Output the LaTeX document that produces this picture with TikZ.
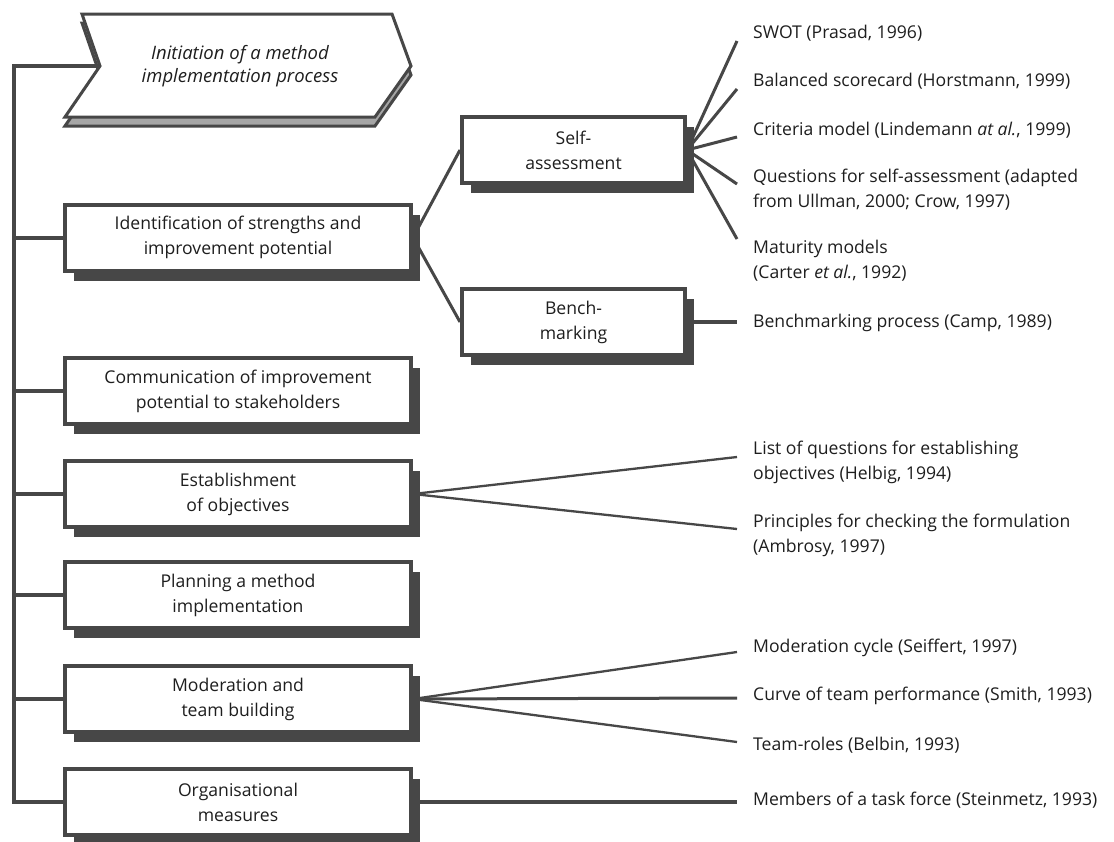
\documentclass[tikz,border=0pt]{standalone}
\usepackage{fontspec}
\setmainfont{Open Sans}
\usetikzlibrary{shadows}
\pgfdeclarelayer{background}
\pgfsetlayers{background,main}
\definecolor{dk}{HTML}{474747}
\definecolor{barfill}{HTML}{A6A6A6}
\definecolor{txt}{HTML}{1E1E1E}
\begin{document}
\begin{tikzpicture}[x=1pt,y=-1pt,
  every node/.style={font=\fontsize{17.6}{25}\selectfont, text=txt},
  mainbox/.style={draw=dk, line width=4pt, fill=white, minimum width=346pt,
    minimum height=66pt, align=center, inner sep=0pt,
    drop shadow={shadow xshift=9pt, shadow yshift=-10pt, opacity=1, fill=dk}},
  subbox/.style={mainbox, minimum width=223pt},
  reftext/.style={anchor=west, align=left, inner sep=0pt},
  trunkline/.style={draw=dk, line width=4pt},
  midline/.style={draw=dk, line width=3pt},
  fanline/.style={draw=dk, line width=2.3pt},
  shapeline/.style={draw=dk, line width=3pt, line join=miter},
]
\useasboundingbox (0,0) rectangle (1114,841);

% top process shape (extrusion, then face)
\draw[shapeline, fill=barfill] (82,23) -- (392,23) -- (411,75) -- (375,126) -- (65,126) -- (100,75) -- cycle;
\draw[shapeline, fill=white] (82,14) -- (392,14) -- (411,66) -- (375,117) -- (65,117) -- (100,66) -- cycle;
\node[align=center, font=\fontsize{18.5}{23}\selectfont\itshape] (init) at (240,66.5) {Initiation of a method\\implementation process};
\coordinate (notch) at (100,66);
\coordinate (ttop) at (14,66);

% left column boxes
\node[mainbox] (ident) at (238,237.5) {Identification of strengths and\\improvement potential};
\node[mainbox] (comm)  at (238,391) {Communication of improvement\\potential to stakeholders};
\node[mainbox] (estab) at (238,494) {Establishment\\of objectives};
\node[mainbox] (plan)  at (238,595) {Planning a method\\implementation};
\node[mainbox] (mod)   at (238,699) {Moderation and\\team building};
\node[mainbox] (org)   at (238,802) {Organisational\\measures};

% middle boxes
\node[subbox] (self)  at (573.5,150) {Self-\\assessment};
\node[subbox] (bench) at (573.5,322) {Bench-\\marking};

% reference texts
\node[reftext] (swot)    at (753,33)  {SWOT (Prasad, 1996)};
\node[reftext] (bal)     at (753,81)  {Balanced scorecard (Horstmann, 1999)};
\node[reftext] (crit)    at (753,130) {Criteria model (Lindemann \textit{at al.}, 1999)};
\node[reftext] (ques)    at (753,189.5) {Questions for self-assessment (adapted\\from Ullman, 2000; Crow, 1997)};
\node[reftext] (mat)     at (753,261) {Maturity models\\(Carter \textit{et al.}, 1992)};
\node[reftext] (bproc)   at (753,323) {Benchmarking process (Camp, 1989)};
\node[reftext] (listq)   at (753,462.5) {List of questions for establishing\\objectives (Helbig, 1994)};
\node[reftext] (princ)   at (753,535) {Principles for checking the formulation\\(Ambrosy, 1997)};
\node[reftext] (modc)    at (753,648) {Moderation cycle (Seiffert, 1997)};
\node[reftext] (curve)   at (753,696) {Curve of team performance (Smith, 1993)};
\node[reftext] (teamr)   at (753,745) {Team-roles (Belbin, 1993)};
\node[reftext] (members) at (753,800) {Members of a task force (Steinmetz, 1993)};

% connector end points
\coordinate (e-swot)  at (737,41);
\coordinate (e-bal)   at (737,89);
\coordinate (e-crit)  at (737,137);
\coordinate (e-ques)  at (737,184);
\coordinate (e-mat)   at (737,239);
\coordinate (e-listq) at (737,457);
\coordinate (e-princ) at (737,529);
\coordinate (e-modc)  at (737,652);
\coordinate (e-curve) at (737,698);
\coordinate (e-teamr) at (737,742);
\coordinate (xend)    at (737,0);

\begin{pgfonlayer}{background}
  \fill[white] (0,0) rectangle (1114,841);
  \draw[trunkline] (notch) -- (ttop) |- (org.west);
  \draw[trunkline] (ttop |- ident) -- (ident.west);
  \draw[trunkline] (ttop |- comm) -- (comm.west);
  \draw[trunkline] (ttop |- estab) -- (estab.west);
  \draw[trunkline] (ttop |- plan) -- (plan.west);
  \draw[trunkline] (ttop |- mod) -- (mod.west);
  \draw[midline] (ident.east) -- (self.west);
  \draw[midline] (ident.east) -- (bench.west);
  \foreach \e in {e-swot,e-bal,e-crit,e-ques,e-mat}
    \draw[midline] (self.east) -- (\e);
  \draw[trunkline] (bench.east) -- (bench.east -| xend);
  \draw[fanline] (estab.east) -- (e-listq);
  \draw[fanline] (estab.east) -- (e-princ);
  \draw[fanline] (mod.east) -- (e-modc);
  \draw[midline] (mod.east) -- (e-curve);
  \draw[fanline] (mod.east) -- (e-teamr);
  \draw[trunkline] (org.east) -- (org.east -| xend);
\end{pgfonlayer}
\end{tikzpicture}
\end{document}
